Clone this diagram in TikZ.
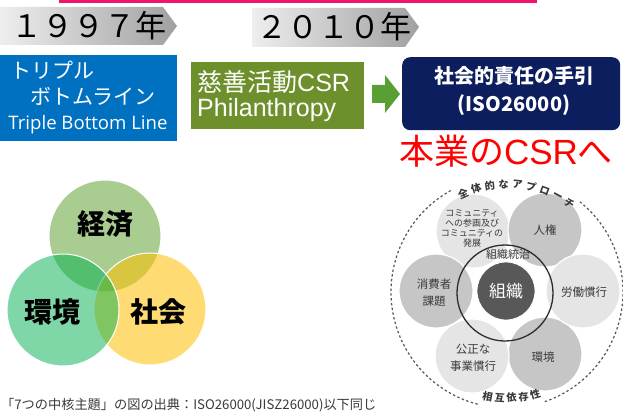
\documentclass[tikz,border=0pt]{standalone}
\usepackage{fontspec}
\newfontfamily\jp{Noto Sans CJK JP}
\newfontfamily\lat{Liberation Sans}
\newfontfamily\ops{Open Sans}
\newcommand{\myfs}[2]{\fontsize{#1}{#2}\selectfont}
\definecolor{pinkline}{RGB}{240,20,110}
\definecolor{tabl}{RGB}{238,238,238}
\definecolor{tabr}{RGB}{160,160,160}
\definecolor{tblblue}{RGB}{0,112,192}
\definecolor{philgreen}{RGB}{110,144,44}
\definecolor{arrowgreen}{RGB}{88,160,52}
\definecolor{navybox}{RGB}{12,30,94}
\definecolor{csrred}{RGB}{255,0,0}
\definecolor{vtop}{RGB}{112,173,71}
\definecolor{vright}{RGB}{255,192,0}
\definecolor{vleft}{RGB}{0,176,80}
\definecolor{isotext}{RGB}{58,58,58}
\definecolor{corec}{RGB}{88,88,88}
\definecolor{ringc}{RGB}{45,45,45}
\definecolor{dashc}{RGB}{85,85,85}
\tikzset{
  tabtxt/.style={font=\jp\myfs{31}{34}, text=black, inner sep=0},
  wtxt/.style={text=white, inner sep=0},
  vcirc/.style={circle, minimum size=112, inner sep=0, draw=white, line width=1},
  vlabel/.style={font=\jp\bfseries\myfs{28}{30}, text=black, inner sep=0},
  petal/.style={circle, minimum size=74, inner sep=0, draw=white, line width=1.2},
  plight/.style={petal, fill=gray!20},
  pdark/.style={petal, fill=gray!45},
  ptxt/.style={font=\jp\myfs{11.5}{17}, text=isotext, align=center, inner sep=0},
  arctxt/.style={font=\jp\bfseries\myfs{10.2}{11}, text=isotext, inner sep=0},
  dashline/.style={draw=dashc, line width=1.2, dash pattern=on 2.4pt off 2.4pt},
}
\begin{document}
\begin{tikzpicture}[x=1pt,y=-1pt]
\path[use as bounding box] (0,0) rectangle (623,417);
\fill[white] (0,0) rectangle (623,417);

% top pink line
\fill[pinkline] (59,0) rectangle (537,3);

% year tabs
\shade[left color=tabl, right color=tabr] (0,7) -- (163,7) -- (177,26) -- (163,45) -- (0,45) -- cycle;
\node[tabtxt] (y1) at (89,26) {１９９７年};
\shade[left color=tabl, right color=tabr] (252,8) -- (405,8) -- (419,27) -- (405,47) -- (252,47) -- cycle;
\node[tabtxt] (y2) at (334,27) {２０１０年};

% blue box
\node[fill=tblblue, minimum width=177, minimum height=86, inner sep=0, anchor=north west] (tbl) at (0,55) {};
\node[wtxt, font=\jp\myfs{21}{22}, anchor=west] (tbl1) at (10,70) {トリプル};
\node[wtxt, font=\jp\myfs{21}{22}] (tbl2) at (93,96) {ボトムライン};
\node[wtxt, font=\ops\myfs{18.6}{20}] (tbl3) at (88,125) {Triple Bottom Line};

% green box
\node[fill=philgreen, minimum width=173, minimum height=67, inner sep=0, anchor=north west] (phil) at (191,62) {};
\node[wtxt, anchor=west] (phil1) at (197,82) {\jp\myfs{25}{26}慈善活動\lat CSR};
\node[wtxt, anchor=west] (phil2) at (197,110) {\lat\myfs{25}{26}Philanthropy};

% arrow
\fill[arrowgreen] (372,85) -- (385,85) -- (385,75) -- (400,94) -- (385,113) -- (385,103) -- (372,103) -- cycle;

% navy box
\node[fill=navybox, rounded corners=8, minimum width=218, minimum height=73, inner sep=0, anchor=north west] (iso) at (402,57) {};
\node[wtxt, font=\jp\bfseries\myfs{20}{22}] (iso1) at (514,76) {社会的責任の手引};
\node[wtxt, font=\jp\bfseries\myfs{20}{22}] (iso2) at (514,105) {(ISO26000)};

% red text
\node[text=csrred, inner sep=0] (red) at (506,151) {\myfs{35}{36}\jp 本業の\lat CSR\jp へ};

% Venn
\node[vcirc, fill=vtop, fill opacity=0.6] (vt) at (105,236) {};
\node[vcirc, fill=vright, fill opacity=0.55] (vr) at (150,309) {};
\node[vcirc, fill=vleft, fill opacity=0.5] (vl) at (63,310) {};
\node[vlabel] (lt) at (105,224) {経済};
\node[vlabel] (ll) at (52,312) {環境};
\node[vlabel] (lr) at (158,312) {社会};

% ISO diagram: outer dashed circle with text gaps
\draw[dashline] plot[domain=119:256, samples=120] ({507+116*cos(\x)},{292-116*sin(\x)});
\draw[dashline] plot[domain=289:411, samples=120] ({507+116*cos(\x)},{292-116*sin(\x)});

% petals
\node[plight] (pcom) at (473,231) {};
\node[pdark] (phr) at (545,230) {};
\node[pdark] (penv) at (545,354) {};
\node[plight] (plab) at (583,291) {};
\node[pdark] (pcon) at (436,291) {};
\node[plight] (pfair) at (472,356) {};

% arc texts
\foreach \ch [count=\i from 0] in {全,体,的,な,ア,プ,ロ,ー,チ}{
  \pgfmathsetmacro{\ang}{114-7.4*\i}
  \pgfmathsetmacro{\rot}{\ang-90}
  \node[arctxt, rotate=\rot] (ta\i) at ({507+108*cos(\ang)},{292-108*sin(\ang)}) {\ch};
}
\foreach \ch [count=\i from 0] in {相,互,依,存,性}{
  \pgfmathsetmacro{\ang}{259.5+6.5*\i}
  \pgfmathsetmacro{\rot}{\ang-270}
  \node[arctxt, rotate=\rot] (tb\i) at ({507+106*cos(\ang)},{292-106*sin(\ang)}) {\ch};
}

\node[ptxt, font=\jp\myfs{9}{10}] (tcom) at (472,228) {コミュニティ\\への参画及び\\コミュニティの\\発展};
\node[ptxt] (thr) at (545,230) {人権};
\node[ptxt] (tlab) at (584,292) {労働慣行};
\node[ptxt] (tenv) at (543,357) {環境};
\node[ptxt] (tfair) at (473,358) {公正な\\事業慣行};
\node[ptxt] (tcon) at (434,293) {消費者\\課題};

% ring and core
\node[circle, draw=ringc, line width=1.3, minimum size=96, inner sep=0] (ring) at (505,293) {};
\node[ptxt, font=\jp\myfs{11}{12}] (tgov) at (508,254) {組織統治};
\node[circle, fill=corec, draw=white, line width=0.8, minimum size=58, inner sep=0] (core) at (506,291) {};
\node[text=white, font=\jp\myfs{17}{18}, inner sep=0] (tcore) at (506,291) {組織};

% footnote
\node[anchor=west, font=\jp\myfs{13.2}{14}, text=isotext, inner sep=0] (foot) at (1,405) {「7つの中核主題」の図の出典：ISO26000(JISZ26000)以下同じ};
\end{tikzpicture}
\end{document}
